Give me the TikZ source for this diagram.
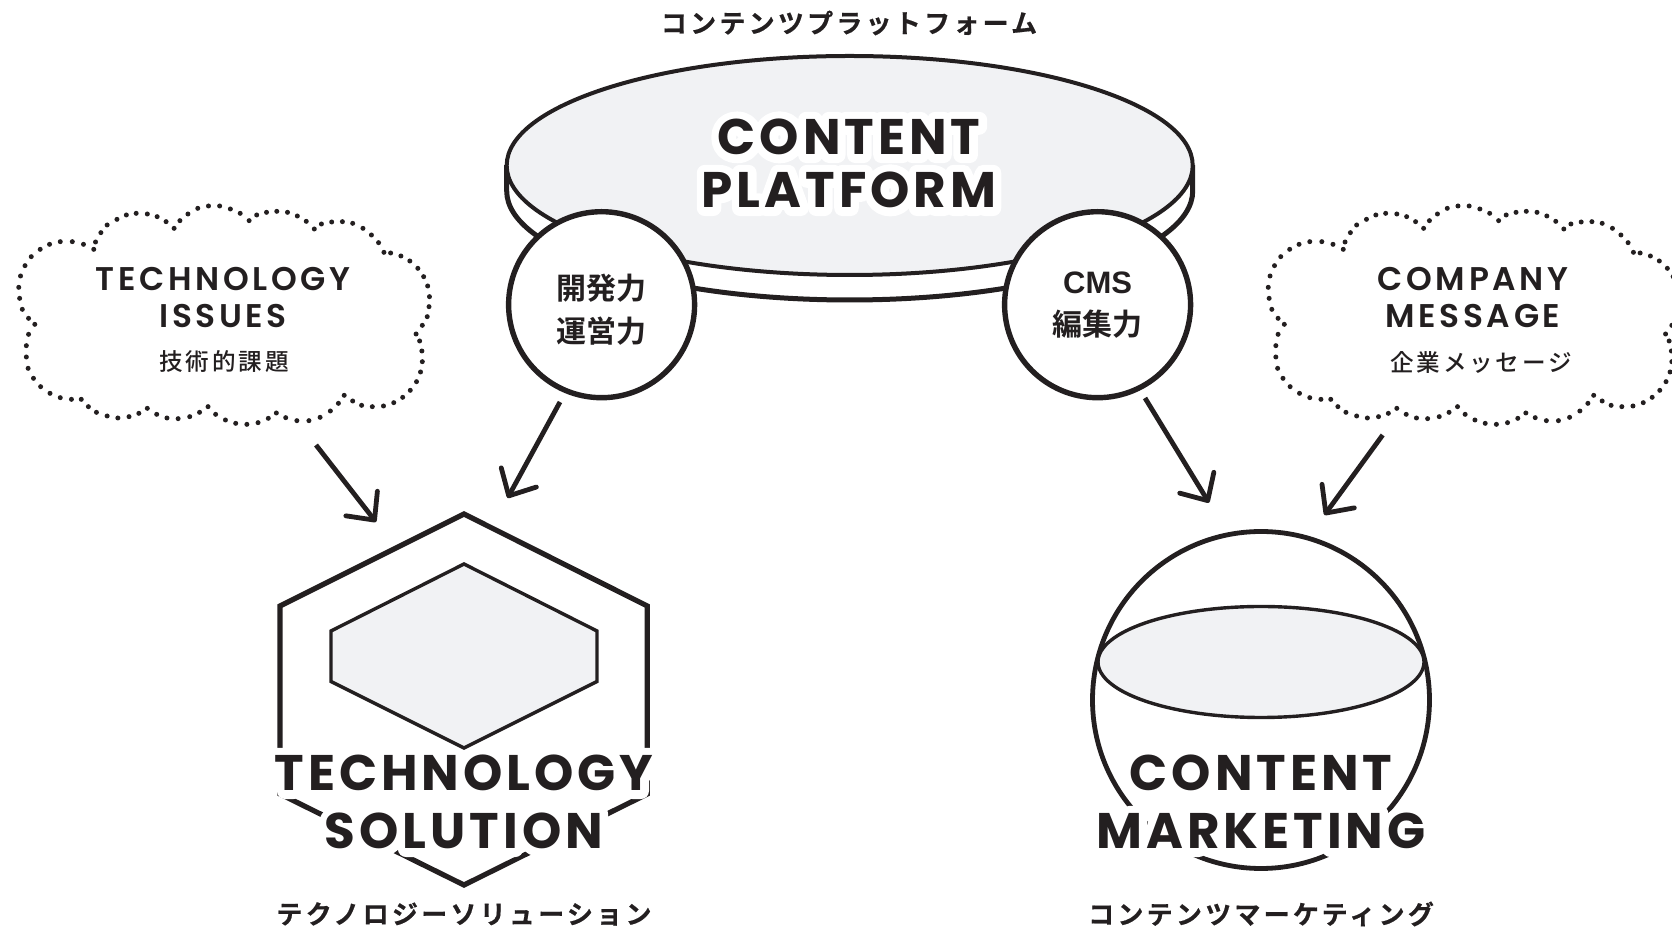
\documentclass[tikz,border=0pt]{standalone}
\usepackage{fontspec}
\usetikzlibrary{arrows.meta}
\newfontfamily\capsf[LetterSpace=8]{Poppins Bold}
\newfontfamily\capshalo[LetterSpace=8,FakeBold=32]{Poppins Bold}
\newfontfamily\smallcaps[LetterSpace=11]{Poppins SemiBold}
\newfontfamily\jpb{Noto Sans CJK JP Bold}
\newfontfamily\jpk[LetterSpace=12.5,FakeBold=0.6]{Noto Sans CJK JP Bold}
\newfontfamily\jpm[LetterSpace=12]{Noto Sans CJK JP Medium}
\newfontfamily\helvb{Liberation Sans Bold}
\definecolor{ink}{HTML}{231F20}
\definecolor{pale}{HTML}{F1F2F4}
\newcommand\halo[1]{\leavevmode\special{pdf:code 1 j}\rlap{\color{white}\capshalo #1}{\capsf #1}}
\tikzset{
  heavy/.style={draw=ink,line width=2.6pt,line join=miter},
  thinline/.style={draw=ink,line width=1.7pt,line join=miter},
  title/.style={text=ink,anchor=base,inner sep=0pt,font=\fontsize{25}{25}\selectfont},
  capline/.style={text=ink,anchor=base,inner sep=0pt,font=\smallcaps\fontsize{16.4}{16.4}\selectfont},
  jlabel/.style={text=ink,inner sep=0pt,font=\jpk\fontsize{13}{13}\selectfont},
  jsmall/.style={text=ink,inner sep=0pt,font=\jpm\fontsize{11.8}{11.8}\selectfont},
  badge/.style={circle,draw=ink,fill=white,line width=2.7pt,minimum size=93pt,inner sep=0pt,text=ink,align=center},
  flow/.style={draw=ink,line width=2.4pt,-{Straight Barb[length=10.5pt,width=20pt,line width=2.4pt,round=false]}},
  clouddot/.style={fill=ink}
}
\newcommand\cloud[1]{%
 \foreach \x/\y in {210/208,226/158,240/135,262/118,283/105,305/100,330/102,352/110,372/125,390/145,403/122,421/102,443/85,467/78,492/78,516/87,538/100,558/122,575/105,597/97,620/94,644/97,666/108,686/124,704/147,720/132,743/126,767/125,790/130,813/145,832/165,848/188,860/217,875/219,898/228,918/243,936/265,949/290,958/318,962/350,961/380,957/410,946/436,932/462,940/483,945/513,946/545,942/576,933/605,919/631,902/652,882/668,859/678,834/680,810/676,790/663,771/646,758/670,740/693,717/712,692/722,665/722,640/713,619/699,601/715,578/728,553/733,528/730,505/720,483/703,466/680,447/697,425/710,399/716,374/714,351/703,330/685,311/700,289/710,264/714,240/708,216/697,198/680,182/658,160/658,135/653,112/640,91/620,75/595,63/565,59/531,59/497,64/463,78/433,64/415,50/388,44/355,42/322,46/288,56/257,70/230,90/208,111/193,135/185,162/185,187/193,214/186}
   \fill[clouddot] ({\x/2.24+#1},{\y/3+180}) circle (2.5);}
\begin{document}
\begin{tikzpicture}[x=0.5pt,y=-0.5pt]
\useasboundingbox (0,0) rectangle (1672,929);
% platform
\path[fill=white,draw=ink,line width=2.5pt] (506.7,165) -- (506.7,191) arc[start angle=180,end angle=0,x radius=343,y radius=109] -- (1192.7,165);
\path[fill=pale,draw=ink,line width=2pt] (849.7,165.5) ellipse[x radius=343,y radius=109.5];
\node[title] (platform1) at (849,155) {\halo{CONTENT}};
\node[title] (platform2) at (849,208) {\halo{PLATFORM}};
\node[jlabel] (platformjp) at (849,23) {コンテンツプラットフォーム};
\node[badge,font=\jpb\fontsize{15}{21.5}\selectfont] (dev) at (601.6,304.7) {\rule{0pt}{17.5pt}開発力\\運営力};
\node[badge,font=\jpb\fontsize{15}{21}\selectfont] (cms) at (1097.6,304.7) {{\helvb\fontsize{15.5}{21}\selectfont CMS}\\編集力};
% clouds
\cloud{0}
\cloud{1249.5}
\node[capline] (tech1) at (223,290.5) {TECHNOLOGY};
\node[capline] (tech2) at (223,327.5) {ISSUES};
\node[jsmall] (techjp) at (224,362) {技術的課題};
\node[capline] (comp1) at (1473,290.5) {COMPANY};
\node[capline] (comp2) at (1473,327.5) {MESSAGE};
\node[jsmall] (compjp) at (1481,362) {企業メッセージ};
% solution
\coordinate (hA) at (464,514);
\path[heavy] (hA) -- (647.3,606) -- (647.3,794) -- (464,885) -- (280,794) -- (280,606) -- cycle;
\path[thinline,fill=pale] (464,564) -- (597,631) -- (597,681.5) -- (464,748) -- (331,681.5) -- (331,631) -- cycle;
\node[title] (sol1) at (464,791) {\halo{TECHNOLOGY}};
\node[title] (sol2) at (464,849) {\halo{SOLUTION}};
\node[jlabel] (soljp) at (464,914) {テクノロジーソリューション};
% marketing
\path[draw=ink,line width=2.4pt] (1261,700) circle (168.5);
\path[fill=pale,draw=ink,line width=1.7pt] (1261,662) ellipse[x radius=163,y radius=55.5];
\node[title] (mk1) at (1261,791) {\halo{CONTENT}};
\node[title] (mk2) at (1261,849) {\halo{MARKETING}};
\node[jlabel] (mkjp) at (1261,914) {コンテンツマーケティング};
% connectors
\coordinate (a1s) at (316,445); \coordinate (a1t) at (376,522);
\coordinate (a2s) at (560,402); \coordinate (a2t) at (507.6,498);
\coordinate (a3s) at (1145,398); \coordinate (a3t) at (1209,502.7);
\coordinate (a4s) at (1382.7,435); \coordinate (a4t) at (1324.4,515);
\draw[flow] (a1s) -- (a1t);
\draw[flow] (a2s) -- (a2t);
\draw[flow] (a3s) -- (a3t);
\draw[flow] (a4s) -- (a4t);
\end{tikzpicture}
\end{document}
